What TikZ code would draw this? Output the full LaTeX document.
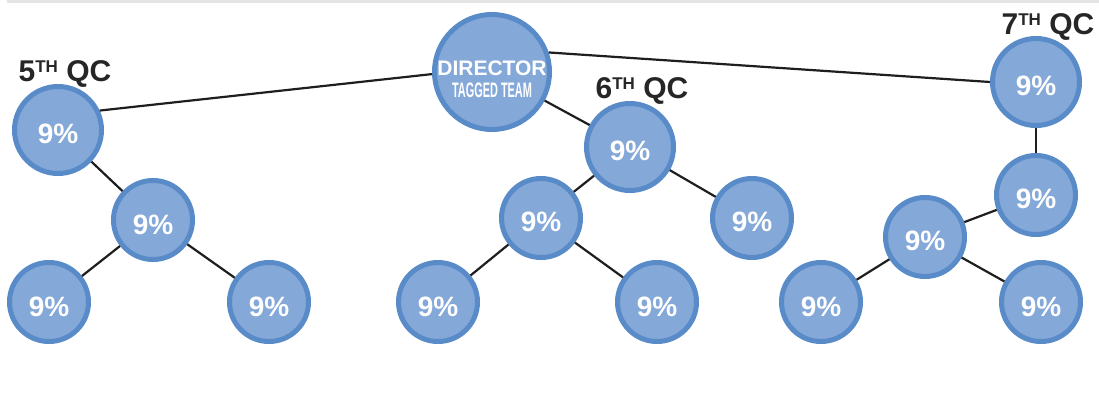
\documentclass[tikz,border=0pt]{standalone}
\usepackage{fontspec}
\setmainfont{Liberation Sans}
\newfontfamily\narrowfont[FakeStretch=0.52]{Liberation Sans}
\definecolor{qcfill}{RGB}{132,168,216}
\definecolor{qcedge}{RGB}{88,139,200}
\definecolor{qcline}{RGB}{30,30,30}
\tikzset{
  qc/.style={circle,draw=qcedge,fill=qcfill,line width=5pt,inner sep=0pt,text=white,
    font=\fontsize{28}{28}\selectfont\bfseries,text height=28pt,text depth=0pt},
  big/.style={qc,minimum size=87pt},
  small/.style={qc,minimum size=79pt},
  link/.style={draw=qcline,line width=2.2pt},
  qclabel/.style={font=\fontsize{30}{30}\selectfont\bfseries,text=black!85,inner sep=0pt,anchor=base},
  dirtext/.style={text=white,inner sep=0pt,anchor=base}
}
\newcommand{\qcname}[1]{#1\raisebox{9pt}{\fontsize{17}{17}\selectfont TH} QC}
\begin{document}
\begin{tikzpicture}[x=1pt,y=-1pt]
            \useasboundingbox (0,0) rectangle (1099,395);
            \fill[black!10] (7,0) rectangle (1099,3);

            % director
            \node[qc,minimum size=115pt] (D) at (492, 72) {};
            \node[dirtext,font=\fontsize{21}{21}\selectfont\bfseries] (D1) at (492, 76) {DIRECTOR};
            \node[dirtext,font=\narrowfont\fontsize{21}{21}\selectfont\bfseries] (D2) at (492, 98) {TAGGED TEAM};

            % 5th QC
            \node[big] (A) at (58, 130) {9\%};
            \node[small] (A1) at (153, 220) {9\%};
            \node[small] (A2) at (49, 302) {9\%};
            \node[small] (A3) at (269, 302) {9\%};

            % 6th QC
            \node[big] (B) at (630, 147) {9\%};
            \node[small] (B1) at (541, 218) {9\%};
            \node[small] (B2) at (752, 218) {9\%};
            \node[small] (B3) at (438, 302) {9\%};
            \node[small] (B4) at (657, 302) {9\%};

            % 7th QC
            \node[big] (C) at (1036, 82) {9\%};
            \node[small] (C1) at (1036, 195) {9\%};
            \node[small] (C2) at (925, 237) {9\%};
            \node[small] (C3) at (821, 302) {9\%};
            \node[small] (C4) at (1041, 302) {9\%};

            \node[qclabel] (LA) at (65, 82) {\qcname{5}};
            \node[qclabel] (LB) at (642, 99) {\qcname{6}};
            \node[qclabel] (LC) at (1048, 35) {\qcname{7}};

            \draw[link] (D.182) to (A.25);
            \draw[link] (D) to (B);
            \draw[link] (D.19) to (C.180);
            \draw[link] (A) to (A1);
            \draw[link] (A1) to (A2);
            \draw[link] (A1) to (A3);
            \draw[link] (B) to (B1);
            \draw[link] (B) to (B2);
            \draw[link] (B1) to (B3);
            \draw[link] (B1) to (B4);
            \draw[link] (C) to (C1);
            \draw[link] (C1) to (C2);
            \draw[link] (C2) to (C3);
            \draw[link] (C2) to (C4);
        \end{tikzpicture}
\end{document}
